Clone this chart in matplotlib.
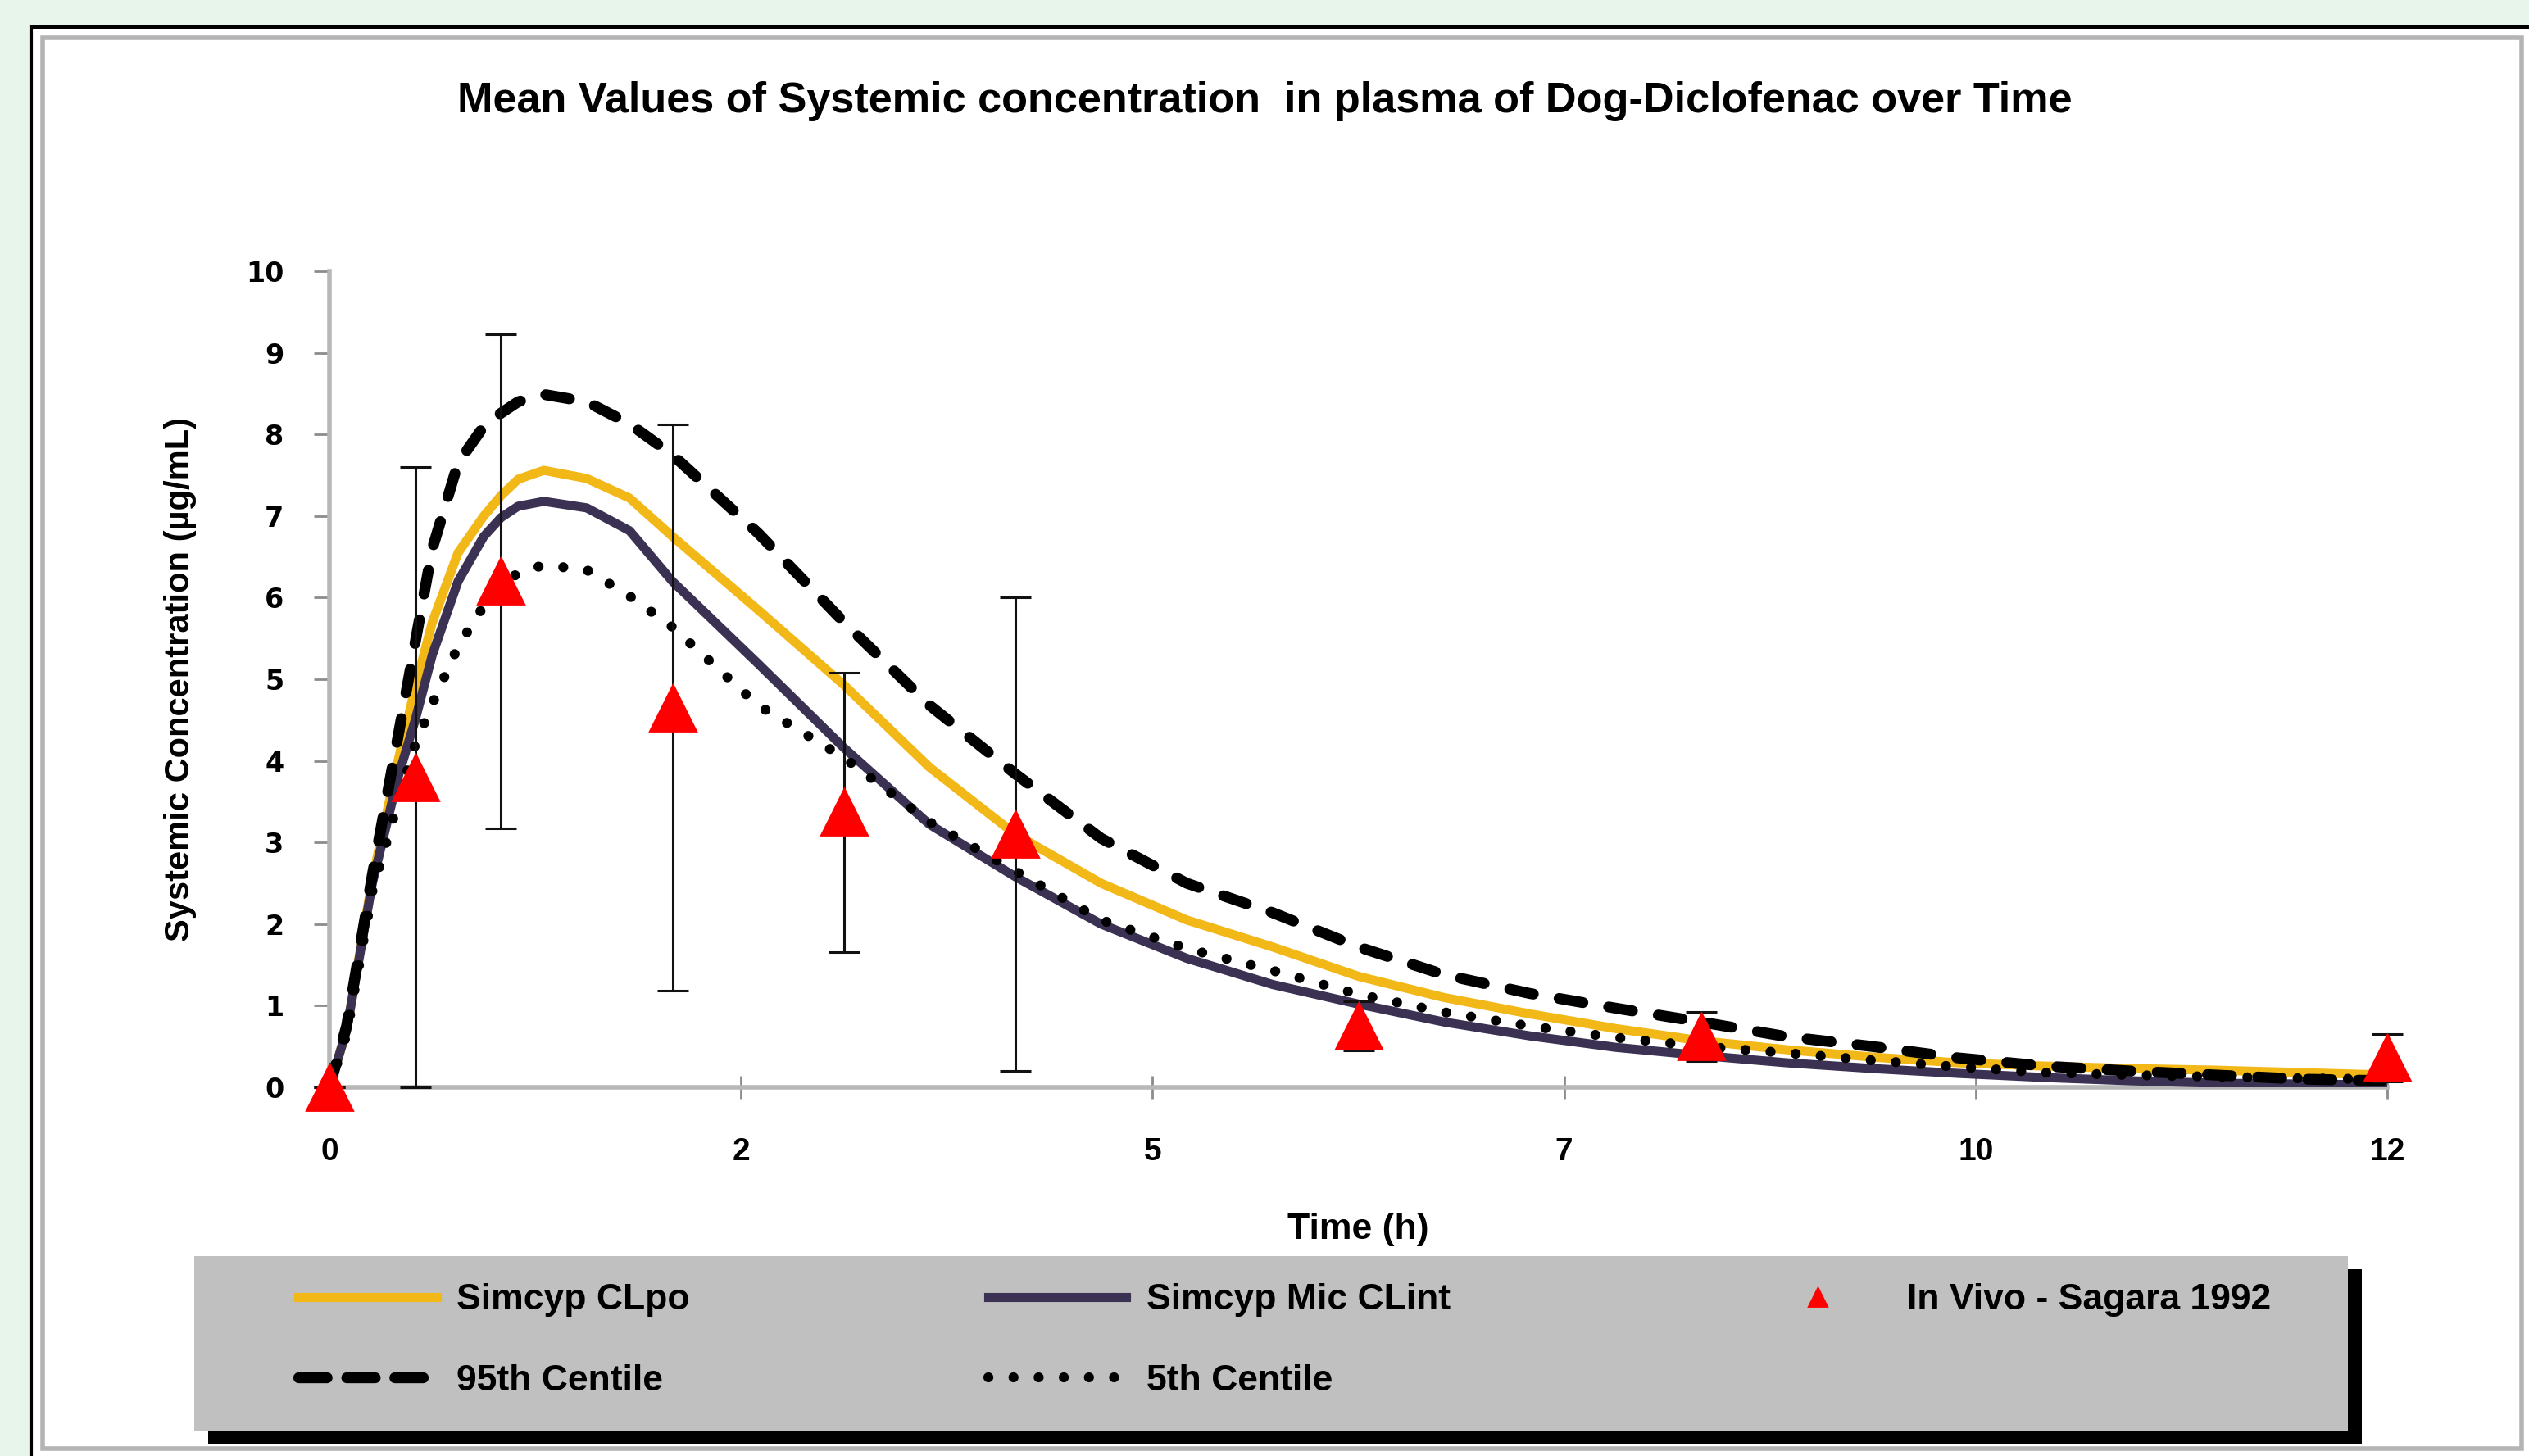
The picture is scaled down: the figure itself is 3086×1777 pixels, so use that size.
import matplotlib
matplotlib.use('Agg')
import matplotlib.pyplot as plt
from matplotlib.patches import Rectangle
from matplotlib.lines import Line2D

W, H = 3086, 1777
DPI = 200

# simulated profiles (Simcyp), time in h, conc in ug/mL
t_sim = [0, 0.1, 0.25, 0.4, 0.5, 0.6, 0.75, 0.9, 1, 1.1, 1.25, 1.5, 1.75, 2, 2.5, 3, 3.5, 4, 4.5,
         5, 5.5, 6, 6.5, 7, 7.5, 8, 8.5, 9, 9.5, 10, 10.5, 11, 11.5, 12]
clpo = [0, 0.7, 2.55, 4.0, 4.9, 5.7, 6.55, 7.0, 7.25, 7.45, 7.56, 7.46, 7.22, 6.75, 5.85, 4.93,
        3.92, 3.1, 2.5, 2.05, 1.72, 1.36, 1.1, 0.9, 0.72, 0.57, 0.46, 0.37, 0.3, 0.26, 0.23,
        0.21, 0.18, 0.15]
mic_clint = [0, 0.7, 2.5, 3.8, 4.5, 5.3, 6.2, 6.75, 6.98, 7.12, 7.18, 7.1, 6.82, 6.2, 5.19, 4.16,
             3.22, 2.58, 2.0, 1.58, 1.26, 1.02, 0.8, 0.63, 0.49, 0.39, 0.3, 0.23, 0.17, 0.12,
             0.08, 0.05, 0.04, 0.03]
p95 = [0, 0.75, 2.6, 4.3, 5.45, 6.6, 7.65, 8.1, 8.26, 8.4, 8.49, 8.4, 8.13, 7.75, 6.79, 5.7,
       4.68, 3.84, 3.05, 2.5, 2.14, 1.72, 1.38, 1.15, 0.97, 0.8, 0.62, 0.5, 0.36, 0.26, 0.2,
       0.15, 0.1, 0.08]
p5 = [0, 0.65, 2.4, 3.5, 4.2, 4.7, 5.4, 5.9, 6.15, 6.3, 6.4, 6.34, 6.02, 5.64, 4.68, 4.04,
      3.25, 2.65, 2.05, 1.7, 1.43, 1.14, 0.92, 0.75, 0.61, 0.5, 0.42, 0.33, 0.25, 0.18, 0.15,
      0.13, 0.11, 0.1]

# in vivo (Sagara 1992)
obs_t = [0, 0.5, 1, 2, 3, 4, 6, 8, 12]
obs_c = [0, 3.8, 6.2, 4.65, 3.37, 3.1, 0.75, 0.62, 0.36]
obs_sd = [0, 3.8, 3.03, 3.47, 1.71, 2.9, 0.3, 0.3, 0.29]

x_ticks = [0, 2.4, 4.8, 7.2, 9.6, 12]
x_ticklabels = ['0', '2', '5', '7', '10', '12']
y_ticks = list(range(0, 11))

YELLOW = '#F2B817'
PURPLE = '#3B3152'
RED = '#FF0000'
BG = '#E8F5EA'

BOLD = ['Liberation Sans', 'DejaVu Sans']
NARROW = ['Liberation Sans Narrow', 'Liberation Sans', 'DejaVu Sans']

DASH = (0, (2.2, 2.4))
DOT = (0, (0.01, 2.5))


def fx(px):
    return px / W


def fy(py):
    return 1 - py / H


fig = plt.figure(figsize=(W / DPI, H / DPI), dpi=DPI, facecolor=BG)

# white panel with black outer border and grey inner edge
fig.patches.append(Rectangle((fx(38), fy(1800)), fx(3100) - fx(38), fy(33) - fy(1800),
                             transform=fig.transFigure, facecolor='white',
                             edgecolor='black', linewidth=1.5, zorder=-2))
fig.patches.append(Rectangle((fx(52), fy(1768)), fx(3077) - fx(52), fy(46) - fy(1768),
                             transform=fig.transFigure, facecolor='none',
                             edgecolor='#b4b4b4', linewidth=2.0, zorder=-1))

ax = fig.add_axes([fx(402), fy(1327), fx(2913) - fx(402), fy(331) - fy(1327)])
ax.set_facecolor('none')
ax.set_zorder(2)

ax.plot(t_sim, clpo, color=YELLOW, lw=4.0, solid_joinstyle='round', zorder=3)
ax.plot(t_sim, mic_clint, color=PURPLE, lw=4.0, solid_joinstyle='round', zorder=3)
ax.plot(t_sim, p95, color='black', lw=4.8, linestyle=DASH, dash_capstyle='round', zorder=3)
ax.plot(t_sim, p5, color='black', lw=4.4, linestyle=DOT, dash_capstyle='round', zorder=3)

ax.errorbar(obs_t, obs_c, yerr=obs_sd, fmt='none', ecolor='#111111', elinewidth=1.1,
            capsize=7, capthick=1.1, zorder=4, clip_on=False)
ax.plot(obs_t, obs_c, linestyle='none', marker='^', ms=20, color=RED, mec=RED,
        zorder=5, clip_on=False)

ax.set_xlim(0, 12)
ax.set_ylim(0, 10)
ax.set_xticks(x_ticks)
ax.set_xticklabels(x_ticklabels, fontfamily=NARROW, fontweight='bold', fontsize=14)
ax.set_yticks(y_ticks)
ax.set_yticklabels([str(v) for v in y_ticks], fontfamily='DejaVu Sans', fontweight='bold',
                   fontsize=12)
ax.tick_params(axis='x', direction='inout', length=10, width=1, color='#8c8c8c', pad=17)
ax.tick_params(axis='y', direction='out', length=7, width=1, color='#8c8c8c', pad=13)

for s in ('top', 'right'):
    ax.spines[s].set_visible(False)
for s in ('left', 'bottom'):
    ax.spines[s].set_color('#b8b8b8')
    ax.spines[s].set_linewidth(2)

ax.set_xlabel('Time (h)', fontfamily=BOLD, fontweight='bold', fontsize=16, va='center')
ax.xaxis.set_label_coords(0.5, -0.174)
ax.set_ylabel('Systemic Concentration (µg/mL)', fontfamily=BOLD, fontweight='bold',
              fontsize=15, va='center')
ax.yaxis.set_label_coords(-0.0725, 0.5)

fig.text(0.5, fy(124), 'Mean Values of Systemic concentration  in plasma of Dog-Diclofenac over Time',
         ha='center', va='center', fontfamily=BOLD, fontweight='bold', fontsize=18.8)

# legend box: grey with a hard black shadow
fig.patches.append(Rectangle((fx(254), fy(1762)), fx(2882) - fx(254), fy(1549) - fy(1762),
                             transform=fig.transFigure, facecolor='black',
                             edgecolor='none', zorder=0))
fig.patches.append(Rectangle((fx(237), fy(1746)), fx(2865) - fx(237), fy(1533) - fy(1746),
                             transform=fig.transFigure, facecolor='#C0C0C0',
                             edgecolor='none', zorder=0.5))

handles = [
    Line2D([], [], color=YELLOW, lw=4.0),
    Line2D([], [], color='black', lw=4.8, linestyle=(0, (2.6, 1.8)), dash_capstyle='round'),
    Line2D([], [], color=PURPLE, lw=4.0),
    Line2D([], [], color='black', lw=4.4, linestyle=DOT, dash_capstyle='round'),
    Line2D([], [], color=RED, linestyle='none', marker='^', ms=8),
]
labels = ['Simcyp CLpo', '95th Centile', 'Simcyp Mic CLint', '5th Centile',
          'In Vivo - Sagara 1992']
leg = fig.legend(handles, labels, ncol=3, mode='expand', loc='center',
                 bbox_to_anchor=(fx(364), fy(1636) - 0.001, fx(2771) - fx(364), 0.002),
                 frameon=False, borderpad=0, borderaxespad=0, handlelength=3.8,
                 handletextpad=0.55, labelspacing=1.3,
                 prop={'family': BOLD, 'weight': 'bold', 'size': 16})
leg.set_zorder(3)

fig.savefig('out.png', dpi=DPI, facecolor=BG)
